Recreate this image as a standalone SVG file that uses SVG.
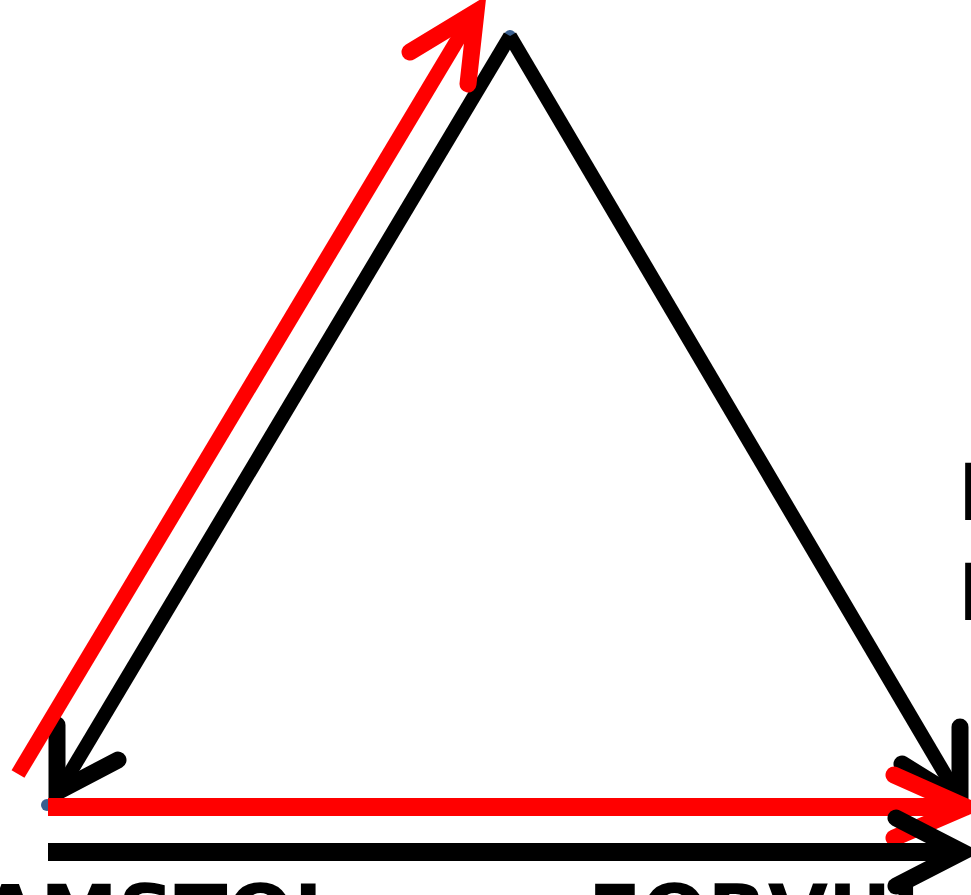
<svg xmlns="http://www.w3.org/2000/svg" width="971" height="895" viewBox="0 0 971 895">
<style>
.k{fill:none;stroke:#000;stroke-width:17;stroke-linecap:round;stroke-linejoin:miter}
.r{fill:none;stroke:#ff0000;stroke-width:17;stroke-linecap:round;stroke-linejoin:miter}
.kb{fill:none;stroke:#000;stroke-width:18;stroke-linecap:butt}
.rb{fill:none;stroke:#ff0000;stroke-width:18;stroke-linecap:butt}
.v{fill:#3a5f8f}
.t{font-family:"DejaVu Sans",sans-serif;font-weight:bold;font-size:78px;fill:#000}
</style>
<rect width="971" height="895" fill="#fff"/>
<g id="vertices">
<circle class="v" cx="510" cy="36" r="6"/>
<circle class="v" cx="47" cy="805" r="6"/>
<circle class="v" cx="964" cy="808" r="6"/>
</g>
<g id="connectors">
<path class="kb" d="M510,36 L58,793" style="stroke-width:14"/>
<path class="k" d="M57,725 L57,792 L118,760"/>
<path class="kb" d="M510,36 L962,803" style="stroke-width:14"/>
<path class="k" d="M960,727 L960,800 L902,764"/>
<path class="rb" d="M18,774 L473,14" style="stroke-width:15"/>
<path class="r" d="M410,52 L476,12 L468,84"/>
<path class="rb" d="M48,807 L960,807"/>
<path class="r" d="M894,775 L966,807 L894,838"/>
<path class="kb" d="M48,852 L960,852"/>
<path class="k" d="M896,818 L962,852 L896,886"/>
</g>
<g id="labels">
<text class="t" x="-20" y="941">AMSTOL</text>
<text class="t" x="588" y="941">EORVUI</text>
<text class="t" x="958" y="520">E</text>
<text class="t" x="958" y="620">E</text>
</g>
</svg>
